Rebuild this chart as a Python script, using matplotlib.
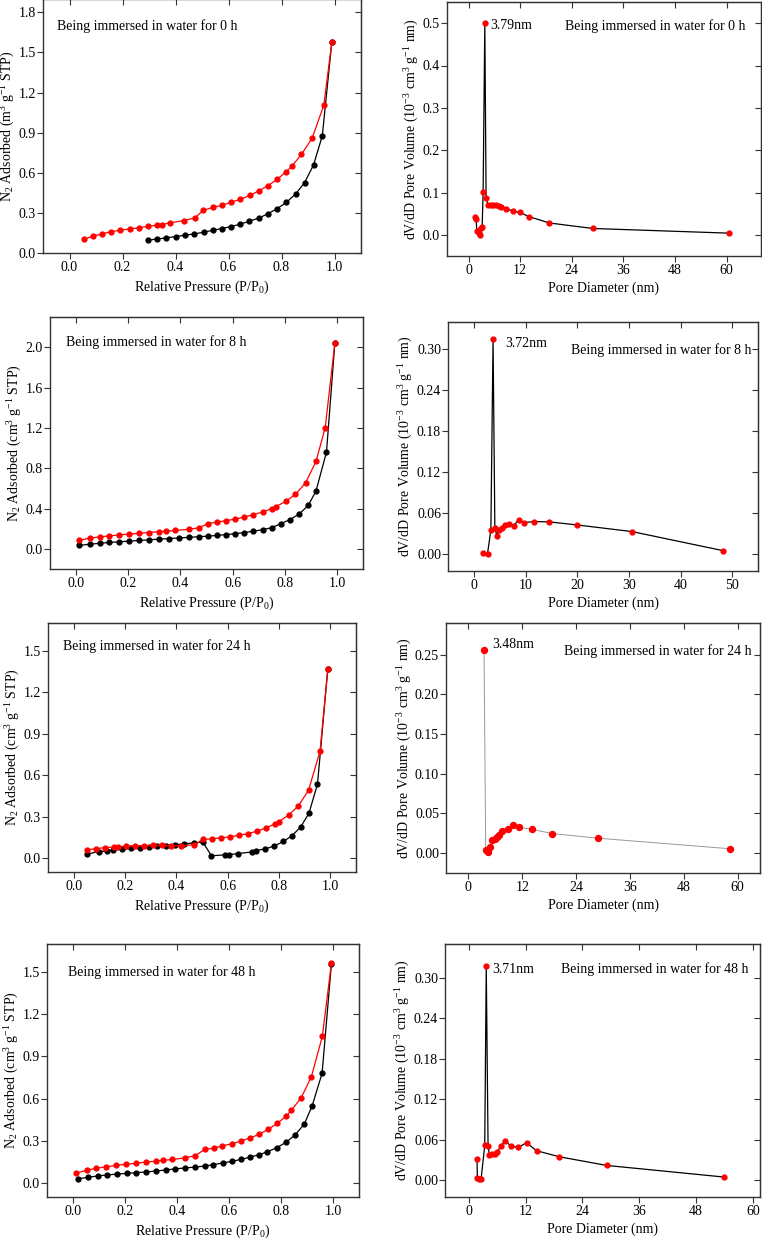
import numpy as np
import matplotlib
matplotlib.use('Agg')
from matplotlib import pyplot as plt
from matplotlib.ticker import FormatStrFormatter

plt.rcParams['font.family'] = ['Liberation Serif', 'DejaVu Serif']
plt.rcParams['mathtext.fontset'] = 'stix'
plt.rcParams['mathtext.default'] = 'regular'

W, H = 762, 1240

# ---- isotherms (P/P0, adsorbed volume) ----
# 0 h
iso0_black_x = [0.296, 0.331, 0.365, 0.400, 0.435, 0.471, 0.506, 0.540, 0.575, 0.610, 0.645,
                0.679, 0.714, 0.748, 0.783, 0.818, 0.853, 0.887, 0.921, 0.954, 0.990]
iso0_black_y = [0.095, 0.105, 0.113, 0.123, 0.133, 0.143, 0.155, 0.170, 0.183, 0.198, 0.216,
                0.238, 0.261, 0.293, 0.331, 0.378, 0.441, 0.526, 0.659, 0.877, 1.581]
iso0_red_x = [0.053, 0.088, 0.122, 0.157, 0.191, 0.227, 0.262, 0.296, 0.331, 0.348, 0.381, 0.432,
              0.473, 0.504, 0.540, 0.576, 0.610, 0.645, 0.680, 0.714, 0.749, 0.784, 0.818, 0.839,
              0.875, 0.916, 0.960, 0.990]
iso0_red_y = [0.103, 0.125, 0.143, 0.160, 0.170, 0.180, 0.188, 0.200, 0.208, 0.213, 0.226, 0.243,
              0.263, 0.318, 0.341, 0.356, 0.381, 0.401, 0.431, 0.464, 0.504, 0.551, 0.609, 0.649,
              0.737, 0.860, 1.108, 1.581]

# 8 h
iso8_black_x = [0.013, 0.052, 0.09, 0.128, 0.166, 0.204, 0.242, 0.28, 0.318, 0.356, 0.394, 0.432,
                0.47, 0.505, 0.54, 0.575, 0.61, 0.645, 0.68, 0.715, 0.75, 0.785, 0.82, 0.855, 0.89,
                0.92, 0.96, 0.992]
iso8_black_y = [0.035, 0.045, 0.055, 0.063, 0.070, 0.077, 0.083, 0.090, 0.096, 0.102, 0.108, 0.114,
                0.120, 0.126, 0.133, 0.141, 0.150, 0.162, 0.175, 0.190, 0.210, 0.250, 0.290, 0.345,
                0.430, 0.575, 0.960, 2.040]
iso8_red_x = [0.013, 0.052, 0.09, 0.128, 0.166, 0.204, 0.242, 0.28, 0.318, 0.345, 0.38, 0.432,
              0.47, 0.505, 0.54, 0.575, 0.61, 0.645, 0.68, 0.715, 0.75, 0.767, 0.803, 0.841, 0.88,
              0.92, 0.955, 0.992]
iso8_red_y = [0.086, 0.106, 0.119, 0.129, 0.139, 0.145, 0.155, 0.162, 0.170, 0.175, 0.182, 0.195,
              0.208, 0.250, 0.265, 0.280, 0.295, 0.315, 0.340, 0.365, 0.400, 0.420, 0.470, 0.540,
              0.655, 0.870, 1.200, 2.040]

# 24 h
iso24_black_x = [0.052, 0.098, 0.129, 0.155, 0.19, 0.223, 0.258, 0.293, 0.326, 0.361, 0.395, 0.43,
                 0.468, 0.503, 0.537, 0.588, 0.606, 0.64, 0.694, 0.71, 0.746, 0.782, 0.817, 0.849,
                 0.884, 0.917, 0.95, 0.99]
iso24_black_y = [0.029, 0.048, 0.052, 0.060, 0.064, 0.070, 0.075, 0.080, 0.085, 0.090, 0.097, 0.104,
                 0.110, 0.117, 0.017, 0.024, 0.026, 0.033, 0.045, 0.055, 0.067, 0.088, 0.121, 0.160,
                 0.224, 0.326, 0.536, 1.364]
iso24_red_x = [0.052, 0.088, 0.122, 0.157, 0.172, 0.205, 0.24, 0.275, 0.31, 0.345, 0.38, 0.42,
               0.47, 0.503, 0.54, 0.575, 0.61, 0.645, 0.68, 0.714, 0.749, 0.784, 0.80, 0.838,
               0.875, 0.915, 0.96, 0.99]
iso24_red_y = [0.060, 0.069, 0.076, 0.081, 0.083, 0.086, 0.088, 0.090, 0.092, 0.093, 0.088, 0.090,
               0.097, 0.135, 0.140, 0.147, 0.155, 0.165, 0.178, 0.195, 0.218, 0.248, 0.265, 0.312,
               0.377, 0.490, 0.775, 1.365]

# 48 h
iso48_black_x = [0.02, 0.058, 0.095, 0.132, 0.169, 0.206, 0.243, 0.28, 0.318, 0.356, 0.394, 0.432,
                 0.471, 0.506, 0.54, 0.575, 0.61, 0.645, 0.679, 0.714, 0.748, 0.785, 0.82, 0.855,
                 0.89, 0.92, 0.958, 0.994]
iso48_black_y = [0.030, 0.040, 0.050, 0.057, 0.063, 0.068, 0.073, 0.078, 0.085, 0.092, 0.100, 0.107,
                 0.113, 0.120, 0.130, 0.142, 0.153, 0.167, 0.182, 0.200, 0.222, 0.252, 0.290, 0.343,
                 0.420, 0.550, 0.780, 1.560]
iso48_red_x = [0.013, 0.052, 0.09, 0.128, 0.166, 0.204, 0.242, 0.28, 0.318, 0.345, 0.38, 0.432,
               0.471, 0.506, 0.542, 0.574, 0.612, 0.645, 0.679, 0.715, 0.75, 0.786, 0.82, 0.84,
               0.878, 0.917, 0.959, 0.994]
iso48_red_y = [0.070, 0.090, 0.105, 0.115, 0.125, 0.133, 0.140, 0.148, 0.155, 0.160, 0.167, 0.178,
               0.195, 0.238, 0.248, 0.264, 0.279, 0.298, 0.319, 0.345, 0.381, 0.424, 0.476, 0.517,
               0.607, 0.757, 1.043, 1.564]

# ---- pore size distributions (D nm, dV/dD) ----
psd0_x = [1.62, 1.78, 1.93, 2.24, 2.47, 2.70, 2.93, 3.17, 3.40, 3.79, 4.09, 4.56, 5.17, 5.79,
          6.41, 7.03, 7.57, 8.80, 10.27, 11.97, 14.05, 18.8, 28.9, 60.5]
psd0_y = [0.042, 0.037, 0.009, 0.010, 0.005, 0.000, 0.016, 0.018, 0.102, 0.500, 0.088, 0.070,
          0.070, 0.071, 0.070, 0.069, 0.066, 0.062, 0.056, 0.053, 0.043, 0.028, 0.015, 0.004]

psd8_x = [1.68, 2.65, 3.30, 3.72, 4.07, 4.46, 4.85, 5.37, 6.02, 6.79, 7.70, 8.67, 9.70, 11.7,
          14.6, 19.9, 30.6, 48.2]
psd8_y = [0.0015, 0.0005, 0.035, 0.315, 0.038, 0.027, 0.035, 0.038, 0.0426, 0.0436, 0.0416,
          0.050, 0.046, 0.0475, 0.047, 0.0426, 0.0328, 0.0049]

psd24_x = [3.48, 3.85, 4.37, 4.81, 5.33, 5.85, 6.30, 6.74, 7.56, 8.81, 9.93, 11.33, 14.07, 18.74,
           28.8, 58.4]
psd24_y = [0.256, 0.0034, 0.0013, 0.0076, 0.016, 0.018, 0.0206, 0.023, 0.0285, 0.031, 0.036,
           0.0327, 0.030, 0.0247, 0.0189, 0.0055]

psd48_x = [1.76, 1.83, 2.19, 2.61, 3.39, 3.71, 4.09, 4.38, 4.94, 5.50, 6.07, 6.77, 7.69, 8.89,
           10.44, 12.21, 14.33, 19.1, 29.1, 54.0]
psd48_y = [0.0317, 0.003, 0.002, 0.001, 0.0515, 0.317, 0.051, 0.0366, 0.039, 0.0386, 0.042,
           0.0505, 0.0584, 0.0505, 0.0485, 0.0554, 0.0436, 0.0347, 0.0218, 0.0045]

hours = ['0', '8', '24', '48']
peak_labels = ['3.79nm', '3.72nm', '3.48nm', '3.71nm']

FRAME = '#333333'
RED = '#ff0000'
FS = 10


def px_axes(fig, l, t, r, b):
    return fig.add_axes([l / W, 1 - b / H, (r - l) / W, (b - t) / H])


def style(ax, xlim, ylim, xticks, yticks, xfmt, yfmt):
    ax.set_xlim(*xlim)
    ax.set_ylim(*ylim)
    ax.set_xticks(xticks)
    ax.set_yticks(yticks)
    ax.xaxis.set_major_formatter(FormatStrFormatter(xfmt))
    ax.yaxis.set_major_formatter(FormatStrFormatter(yfmt))
    ax.tick_params(direction='out', length=4, width=0.8, color=FRAME, labelsize=FS)
    ax.tick_params(axis='x', pad=2)
    ax.tick_params(axis='y', pad=1)
    for sp in ax.spines.values():
        sp.set_color(FRAME)
        sp.set_linewidth(1.0)
    top = ax.secondary_xaxis('top')
    top.set_xticks(xticks)
    top.tick_params(direction='in', length=4, width=0.8, color=FRAME, labeltop=False)
    top.spines['top'].set_color(FRAME)
    right = ax.secondary_yaxis('right')
    right.set_yticks(yticks)
    right.tick_params(direction='in', length=4, width=0.8, color=FRAME, labelright=False)
    right.spines['right'].set_color(FRAME)


def iso_plot(ax, bx, by, rx, ry):
    ax.plot(bx, by, '-o', color='black', lw=0.9, ms=3.5, zorder=2)
    ax.plot(rx, ry, '-o', color=RED, lw=0.9, ms=3.5, zorder=3)


def psd_plot(ax, x, y, line='black', lw=0.9, ms=3.5):
    ax.plot(x, y, '-', color=line, lw=lw, zorder=2)
    ax.plot(x, y, 'o', color=RED, ms=ms, zorder=3, linestyle='none')


fig = plt.figure(figsize=(W / 100, H / 100), dpi=100)

# axes boxes in pixel coordinates (left, top, right, bottom)
left_boxes = [(43, -1, 361, 253), (50, 317, 363, 569), (48, 623, 356, 872), (47, 944, 359, 1197)]
right_boxes = [(447, 2, 761, 256), (448, 322, 758, 571), (446, 623, 760, 873), (445, 944, 760, 1197)]

iso_data = [(iso0_black_x, iso0_black_y, iso0_red_x, iso0_red_y),
            (iso8_black_x, iso8_black_y, iso8_red_x, iso8_red_y),
            (iso24_black_x, iso24_black_y, iso24_red_x, iso24_red_y),
            (iso48_black_x, iso48_black_y, iso48_red_x, iso48_red_y)]
iso_ylims = [(0, 1.9), (-0.2, 2.3), (-0.1, 1.7), (-0.1, 1.7)]
iso_yticks = [np.arange(0, 1.81, 0.3), np.arange(0, 2.01, 0.4), np.arange(0, 1.51, 0.3),
              np.arange(0, 1.51, 0.3)]
iso_ylabels = ['N$_2$ Adsorbed (m$^3$ g$^{-1}$ STP)'] + ['N$_2$ Adsorbed (cm$^3$ g$^{-1}$ STP)'] * 3

psd_data = [(psd0_x, psd0_y), (psd8_x, psd8_y), (psd24_x, psd24_y), (psd48_x, psd48_y)]
psd_xlims = [(-5, 68), (-5, 55), (-5, 65), (-5, 61.5)]
psd_xticks = [np.arange(0, 61, 12), np.arange(0, 51, 10), np.arange(0, 61, 12), np.arange(0, 61, 12)]
psd_ylims = [(-0.05, 0.55), (-0.025, 0.34), (-0.025, 0.29), (-0.025, 0.35)]
psd_yticks = [np.arange(0, 0.51, 0.1), np.arange(0, 0.301, 0.06), np.arange(0, 0.251, 0.05),
              np.arange(0, 0.301, 0.06)]
psd_yfmt = ['%.1f', '%.2f', '%.2f', '%.2f']

# text positions in pixels: iso label start, psd label start, peak label offsets (pt)
iso_text_pos = [(57, 26), (66, 342), (63, 646), (68, 972)]
psd_text_pos = [(565, 26), (571, 350), (564, 651), (561, 969)]
peak_offsets = [(4, -2), (9, -3), (6, 4), (4, -2)]

for i in range(4):
    ax = px_axes(fig, *left_boxes[i])
    iso_plot(ax, *iso_data[i])
    style(ax, (-0.1, 1.1), iso_ylims[i], np.arange(0, 1.01, 0.2), iso_yticks[i], '%.1f', '%.1f')
    ax.set_xlabel('Relative Pressure (P/P$_0$)', fontsize=FS, labelpad=3)
    ax.set_ylabel(iso_ylabels[i], fontsize=FS, labelpad=1)
    tx, ty = iso_text_pos[i]
    fig.text(tx / W, 1 - ty / H, 'Being immersed in water for %s h' % hours[i],
             fontsize=FS, va='center', ha='left')

    ax = px_axes(fig, *right_boxes[i])
    x, y = psd_data[i]
    if i == 2:
        psd_plot(ax, x, y, line='#999999', lw=0.7, ms=4.3)
    else:
        psd_plot(ax, x, y)
    style(ax, psd_xlims[i], psd_ylims[i], psd_xticks[i], psd_yticks[i], '%d', psd_yfmt[i])
    ax.set_xlabel('Pore Diameter (nm)', fontsize=FS, labelpad=3)
    ax.set_ylabel('dV/dD Pore Volume (10$^{-3}$ cm$^3$ g$^{-1}$ nm)', fontsize=FS, labelpad=1)
    k = int(np.argmax(y))
    ax.annotate(peak_labels[i], xy=(x[k], y[k]), xytext=peak_offsets[i],
                textcoords='offset points', fontsize=FS, va='center', ha='left')
    tx, ty = psd_text_pos[i]
    fig.text(tx / W, 1 - ty / H, 'Being immersed in water for %s h' % hours[i],
             fontsize=FS, va='center', ha='left')

plt.savefig('out.png', dpi=100)
